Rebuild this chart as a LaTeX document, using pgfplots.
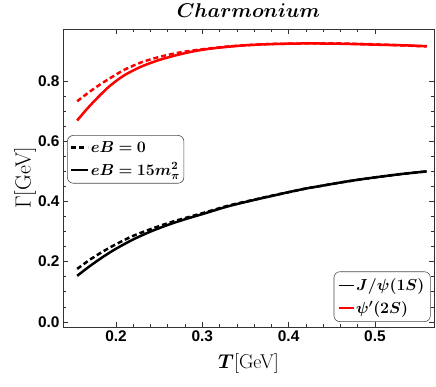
\RequirePackage{fix-cm}
\documentclass[border=0pt]{standalone}
\usepackage{fontspec}
\setsansfont{Liberation Sans}
\usepackage{amsmath}
\usepackage{bm}
\usepackage{pgfplots}
\pgfplotsset{compat=1.18}

\pgfplotstableread{
T v
0.155 0.669
0.165 0.703
0.175 0.734
0.185 0.763
0.195 0.789
0.210 0.820
0.230 0.849
0.250 0.870
0.270 0.886
0.290 0.899
0.310 0.908
0.330 0.914
0.350 0.919
0.380 0.923
0.420 0.925
0.460 0.924
0.500 0.921
0.530 0.919
0.560 0.916
}\psisolid
\pgfplotstableread{
T v
0.155 0.733
0.165 0.755
0.175 0.776
0.185 0.795
0.195 0.813
0.210 0.838
0.230 0.863
0.250 0.880
0.270 0.893
0.290 0.902
0.310 0.909
0.330 0.915
0.350 0.919
0.380 0.923
0.420 0.925
0.460 0.925
0.500 0.922
0.530 0.919
0.560 0.915
}\psidashed
\pgfplotstableread{
T v
0.155 0.153
0.170 0.186
0.185 0.216
0.200 0.243
0.220 0.274
0.240 0.300
0.260 0.322
0.280 0.341
0.300 0.358
0.330 0.384
0.360 0.405
0.380 0.418
0.400 0.431
0.420 0.443
0.440 0.453
0.460 0.463
0.480 0.472
0.500 0.480
0.530 0.491
0.560 0.500
}\jsolid
\pgfplotstableread{
T v
0.155 0.176
0.170 0.207
0.185 0.234
0.200 0.258
0.220 0.286
0.240 0.308
0.260 0.328
0.280 0.345
0.300 0.361
0.330 0.386
0.360 0.406
0.380 0.419
0.400 0.431
0.420 0.443
0.440 0.453
0.460 0.463
0.480 0.472
0.500 0.480
0.530 0.491
0.560 0.500
}\jdashed

\begin{document}
\begin{tikzpicture}
\useasboundingbox (-63bp,-60bp) rectangle (373bp,327bp);
\begin{axis}[
  at={(0,0)}, anchor=south west,
  width=371bp, height=298bp, scale only axis,
  xmin=0.1386, xmax=0.5684, ymin=-0.017, ymax=0.973,
  xtick={0.2,0.3,0.4,0.5}, ytick={0,0.2,0.4,0.6,0.8},
  minor x tick num=4, minor y tick num=3,
  tick align=inside,
  major tick length=5bp, minor tick length=3bp,
  tick style={black!80, line width=0.6bp},
  axis line style={line width=0.8bp, black!80},
  ticklabel style={font=\fontsize{15.5}{18}\selectfont\sffamily\bfseries},
  /pgf/number format/assume math mode=true,
  /pgf/number format/fixed, /pgf/number format/fixed zerofill, /pgf/number format/precision=1,
  title={$\bm{Charmonium}$},
  title style={font=\fontsize{20}{24}\selectfont, at={(0.5,1)}, anchor=south, yshift=2bp},
  xlabel={$\bm{T}$[GeV]},
  xlabel style={font=\fontsize{20}{24}\selectfont, at={(0.5,-0.123)}, anchor=center},
  ylabel={$\Gamma$[GeV]},
  ylabel style={font=\fontsize{22}{26}\selectfont, at={(-0.102,0.5)}, anchor=center},
  legend style={at={(0.011,0.644)}, anchor=north west, draw=black!70, rounded corners=6bp,
    font=\fontsize{16}{19}\selectfont, row sep=5bp, inner xsep=2bp, inner ysep=4bp, line width=0.6bp},
  legend cell align=left,
  legend image code/.code={\draw[#1] (0bp,0bp) -- (17bp,0bp);},
]
\addlegendimage{draw=black, line width=2.4bp, dash pattern=on 5bp off 3.5bp}
\addlegendentry{$\bm{eB=0}$}
\addlegendimage{draw=black, line width=2.4bp}
\addlegendentry{$\bm{eB=15m_\pi^2}$}
\addplot[forget plot, red, smooth, line width=2.5bp, dash pattern=on 5bp off 3bp] table[x=T,y=v] {\psidashed};
\addplot[forget plot, red, smooth, line width=2.5bp] table[x=T,y=v] {\psisolid};
\addplot[forget plot, black, smooth, line width=2.5bp, dash pattern=on 5bp off 3bp] table[x=T,y=v] {\jdashed};
\addplot[forget plot, black, smooth, line width=2.5bp] table[x=T,y=v] {\jsolid};
\end{axis}
\begin{axis}[
  at={(0,0)}, anchor=south west,
  width=371bp, height=298bp, scale only axis, hide axis,
  xmin=0.1386, xmax=0.5684, ymin=-0.017, ymax=0.973,
  legend style={at={(0.991,0.017)}, anchor=south east, draw=black!70, rounded corners=6bp,
    font=\fontsize{16}{19}\selectfont, row sep=5bp, inner xsep=4bp, inner ysep=5bp, line width=0.6bp},
  legend cell align=left,
  legend image code/.code={\draw[#1] (0bp,0bp) -- (15bp,0bp);},
]
\addlegendimage{draw=black, line width=1.2bp}
\addlegendentry{$\bm{J/\psi(1S)}$}
\addlegendimage{color=red, draw=red, line width=1.3bp}
\addlegendentry{$\bm{\psi'(2S)}$}
\end{axis}
\end{tikzpicture}
\end{document}
